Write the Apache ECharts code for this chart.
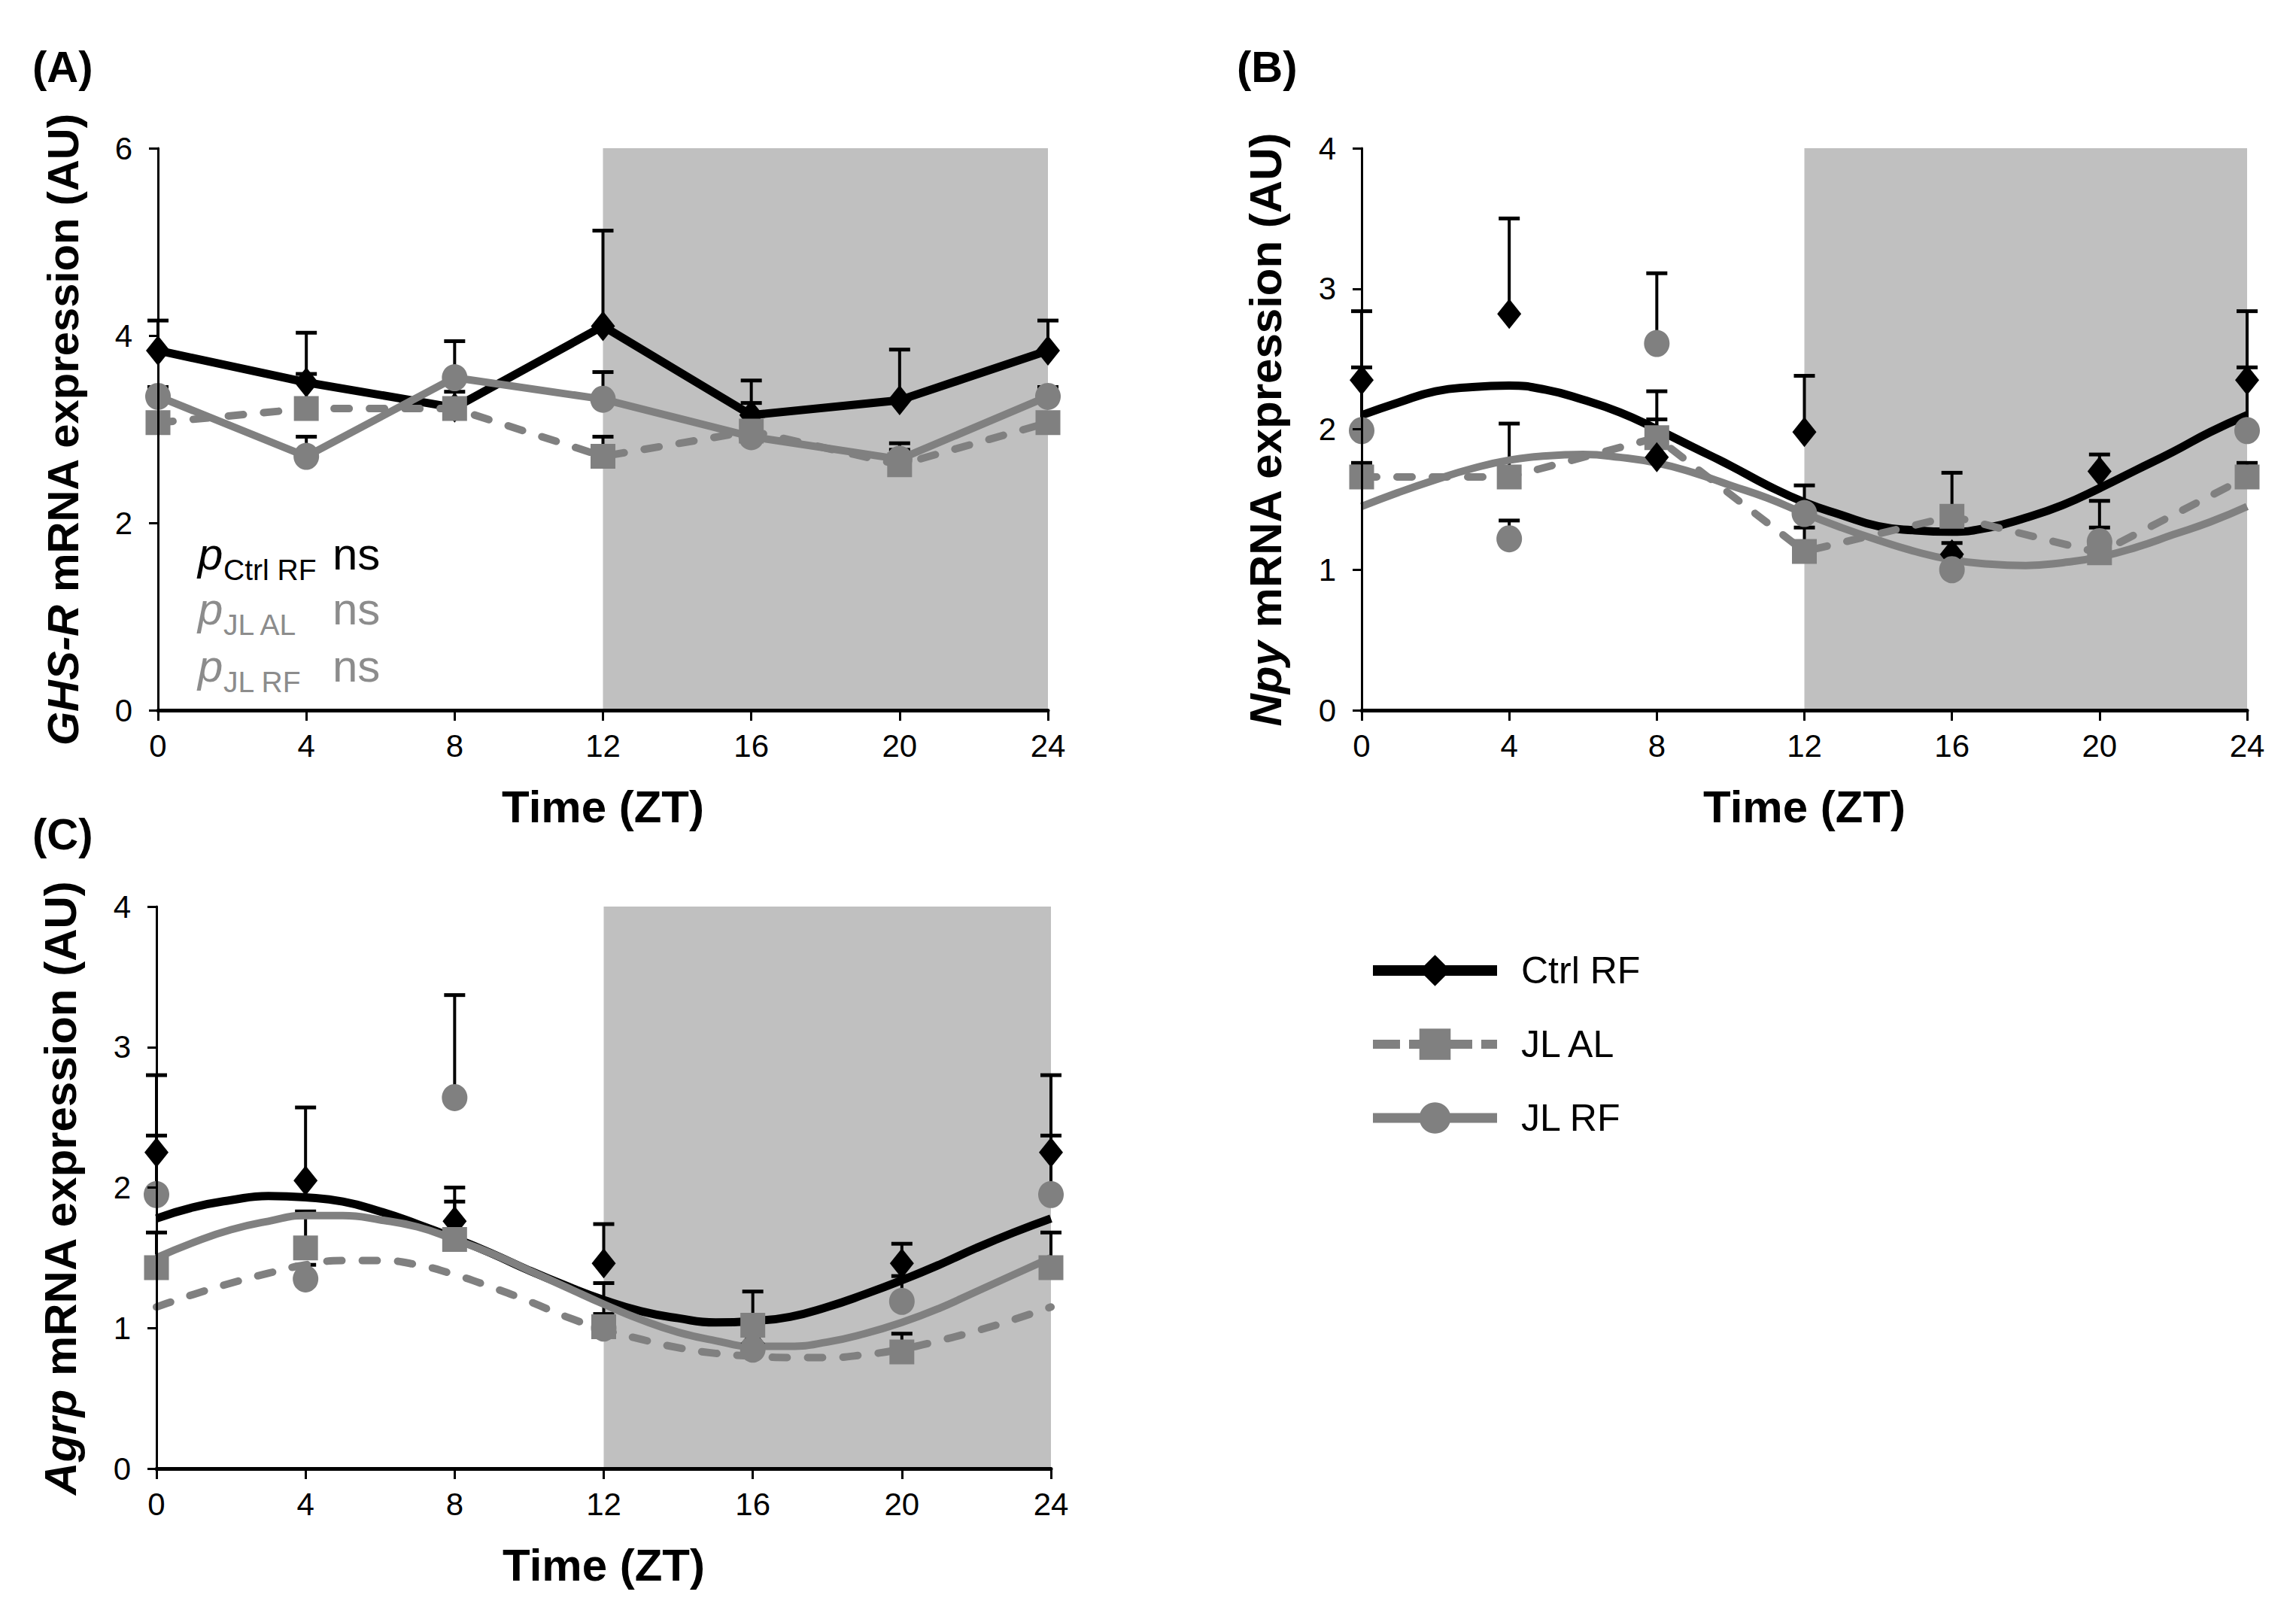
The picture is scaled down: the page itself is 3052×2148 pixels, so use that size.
<!DOCTYPE html>
<html>
<head>
<meta charset="utf-8">
<script src="https://cdn.jsdelivr.net/npm/echarts@6.0.0/dist/echarts.min.js"></script>
<style>
html,body{margin:0;padding:0;background:#ffffff;}
#chart{width:3052px;height:2148px;}
</style>
</head>
<body>
<div id="chart"></div>
<script>
// ---------------- data ----------------
const zt = [0, 4, 8, 12, 16, 20, 24];
const ztFit = [0, 1, 2, 3, 4, 5, 6, 7, 8, 9, 10, 11, 12, 13, 14, 15, 16, 17, 18, 19, 20, 21, 22, 23, 24];
const xTickLabels = ['0', '4', '8', '12', '16', '20', '24'];
const yTicksA = [0, 2, 4, 6];
const yTicksBC = [0, 1, 2, 3, 4];
const darkPhase = [12, 24];
const groupNames = ['Ctrl RF', 'JL AL', 'JL RF'];

// (A) GHS-R
const ghsrCtrlRF = [3.84, 3.50, 3.23, 4.10, 3.15, 3.31, 3.84];
const ghsrCtrlRFSem = [0.32, 0.53, 0.17, 1.02, 0.37, 0.54, 0.32];
const ghsrJLAL = [3.07, 3.22, 3.22, 2.71, 2.98, 2.62, 3.07];
const ghsrJLALSem = [0.10, 0.37, 0.10, 0.21, 0.30, 0.23, 0.10];
const ghsrJLRF = [3.35, 2.71, 3.55, 3.32, 2.92, 2.68, 3.35];
const ghsrJLRFSem = [0.10, 0.21, 0.39, 0.29, 0.10, 0.10, 0.10];

// (B) Npy
const npyCtrlRF = [2.35, 2.82, 1.80, 1.98, 1.11, 1.70, 2.35];
const npyCtrlRFSem = [0.49, 0.68, 0.27, 0.40, 0.08, 0.12, 0.49];
const npyJLAL = [1.66, 1.66, 1.94, 1.13, 1.38, 1.12, 1.66];
const npyJLALSem = [0.10, 0.38, 0.33, 0.17, 0.31, 0.37, 0.10];
const npyJLRF = [1.99, 1.22, 2.61, 1.40, 1.00, 1.20, 1.99];
const npyJLRFSem = [0.45, 0.13, 0.50, 0.20, 0.10, 0.10, 0.45];
const npyCtrlRFFit = [2.10, 2.19, 2.27, 2.30, 2.31, 2.28, 2.21, 2.12, 2.00, 1.87, 1.74, 1.60, 1.48, 1.39, 1.31, 1.28, 1.27, 1.30, 1.37, 1.46, 1.58, 1.71, 1.84, 1.98, 2.10];
const npyJLRFFit = [1.45, 1.55, 1.64, 1.72, 1.78, 1.81, 1.82, 1.80, 1.76, 1.69, 1.60, 1.51, 1.40, 1.30, 1.21, 1.13, 1.07, 1.04, 1.03, 1.05, 1.09, 1.16, 1.25, 1.34, 1.45];

// (C) Agrp
const agrpCtrlRF = [2.25, 2.05, 1.76, 1.46, 0.89, 1.46, 2.25];
const agrpCtrlRFSem = [0.55, 0.52, 0.24, 0.28, 0.08, 0.14, 0.55];
const agrpJLAL = [1.43, 1.57, 1.63, 1.01, 1.02, 0.83, 1.43];
const agrpJLALSem = [0.25, 0.26, 0.27, 0.31, 0.24, 0.13, 0.25];
const agrpJLRF = [1.95, 1.35, 2.64, 1.00, 0.85, 1.19, 1.95];
const agrpJLRFSem = [0.42, 0.10, 0.73, 0.10, 0.10, 0.18, 0.42];
const agrpCtrlRFFit = [1.78, 1.86, 1.91, 1.94, 1.93, 1.90, 1.83, 1.74, 1.64, 1.53, 1.41, 1.30, 1.20, 1.12, 1.07, 1.04, 1.05, 1.08, 1.15, 1.24, 1.34, 1.45, 1.57, 1.68, 1.78];
const agrpJLALFit = [1.15, 1.24, 1.32, 1.39, 1.45, 1.48, 1.48, 1.45, 1.38, 1.29, 1.19, 1.08, 0.99, 0.92, 0.86, 0.82, 0.80, 0.79, 0.79, 0.81, 0.85, 0.91, 0.98, 1.06, 1.15];
const agrpJLRFFit = [1.50, 1.61, 1.70, 1.76, 1.80, 1.80, 1.77, 1.72, 1.63, 1.53, 1.41, 1.29, 1.17, 1.06, 0.97, 0.91, 0.87, 0.87, 0.90, 0.96, 1.04, 1.14, 1.26, 1.38, 1.50];

// ---------------- styling ----------------
const FONT = '"Liberation Sans", Arial, sans-serif';
const BLACK = '#000000';
const GREY = '#808080';
const TEXT_GREY = '#8c8c8c';
const SHADE = '#c0c0c0';
const DASH = [20, 27];
const SYM = {
  'Ctrl RF': { symbol: 'diamond', size: [32, 40], color: BLACK, width: 11 },
  'JL AL': { symbol: 'rect', size: [33, 33], color: GREY, width: 10 },
  'JL RF': { symbol: 'circle', size: [34, 36], color: GREY, width: 10 }
};

function pairs(xs, ys) { return xs.map((x, i) => [x, ys[i]]); }

function lineStyleFor(name, dashed) {
  const s = SYM[name];
  return dashed
    ? { color: s.color, width: s.width, type: DASH, cap: 'round', join: 'round' }
    : { color: s.color, width: s.width, type: 'solid', cap: 'butt', join: 'round' };
}

function errSeries(gi, ys, sems) {
  return {
    type: 'custom', xAxisIndex: gi, yAxisIndex: gi, z: 3, silent: true, clip: false,
    encode: { x: 0, y: 1 },
    data: zt.map((x, i) => [x, ys[i], sems[i]]),
    renderItem: function (params, api) {
      const x = api.value(0), y = api.value(1), e = api.value(2);
      const p0 = api.coord([x, y]);
      const p1 = api.coord([x, y + e]);
      const hw = 14;
      return {
        type: 'group',
        children: [
          { type: 'line', shape: { x1: p0[0], y1: p0[1], x2: p1[0], y2: p1[1] }, style: { stroke: BLACK, lineWidth: 4 } },
          { type: 'line', shape: { x1: p1[0] - hw, y1: p1[1], x2: p1[0] + hw, y2: p1[1] }, style: { stroke: BLACK, lineWidth: 5 } }
        ]
      };
    }
  };
}

function connected(gi, name, ys, dashed) {
  const s = SYM[name];
  return {
    type: 'line', name: name, xAxisIndex: gi, yAxisIndex: gi, z: 5,
    data: pairs(zt, ys), symbol: s.symbol, symbolSize: s.size, showSymbol: true,
    itemStyle: { color: s.color, borderWidth: 0 },
    lineStyle: lineStyleFor(name, dashed),
    emphasis: { disabled: true }, silent: true
  };
}

function points(gi, name, ys) {
  const s = SYM[name];
  return {
    type: 'scatter', name: name, xAxisIndex: gi, yAxisIndex: gi, z: 6,
    data: pairs(zt, ys), symbol: s.symbol, symbolSize: s.size,
    itemStyle: { color: s.color, opacity: 1 }, emphasis: { disabled: true }, silent: true
  };
}

function fitCurve(gi, name, ys, dashed) {
  const s = SYM[name];
  return {
    type: 'line', name: name, xAxisIndex: gi, yAxisIndex: gi, z: 4,
    data: pairs(ztFit, ys), smooth: true, showSymbol: false, symbol: 'none',
    lineStyle: lineStyleFor(name, dashed),
    itemStyle: { color: s.color },
    emphasis: { disabled: true }, silent: true
  };
}

function shadeSeries(gi, ymax) {
  return {
    type: 'scatter', xAxisIndex: gi, yAxisIndex: gi, z: 1, data: [], silent: true,
    markArea: {
      silent: true,
      itemStyle: { color: SHADE, opacity: 1 },
      data: [[{ coord: [darkPhase[0], 0] }, { coord: [darkPhase[1], ymax] }]]
    }
  };
}

const grids = [
  { left: 210, top: 197, width: 1183, height: 747, outerBoundsMode: 'none' },
  { left: 1810, top: 197, width: 1177, height: 747, outerBoundsMode: 'none' },
  { left: 208, top: 1205, width: 1189, height: 747, outerBoundsMode: 'none' }
];

function xAx(gi) {
  return {
    type: 'value', gridIndex: gi, min: 0, max: 24, interval: 4, z: 10,
    axisLine: { show: true, onZero: false, lineStyle: { color: BLACK, width: 5 } },
    axisTick: { show: true, inside: false, length: 14, lineStyle: { color: BLACK, width: 3 } },
    axisLabel: { show: true, fontSize: 42, fontFamily: FONT, color: BLACK, margin: 26,
      showMinLabel: true, showMaxLabel: true,
      formatter: (v) => xTickLabels[zt.indexOf(v)] },
    splitLine: { show: false },
    name: 'Time (ZT)', nameLocation: 'middle', nameGap: 98,
    nameTextStyle: { fontSize: 60, fontWeight: 'bold', fontFamily: FONT, color: BLACK }
  };
}

function yAx(gi, ticks, gene, size) {
  return {
    type: 'value', gridIndex: gi, min: ticks[0], max: ticks[ticks.length - 1],
    interval: ticks[1] - ticks[0], z: 10,
    axisLine: { show: true, onZero: false, lineStyle: { color: BLACK, width: 3 } },
    axisTick: { show: true, inside: false, length: 12, lineStyle: { color: BLACK, width: 3 } },
    axisLabel: { show: true, fontSize: 42, fontFamily: FONT, color: BLACK, margin: 34,
      showMinLabel: true, showMaxLabel: true },
    splitLine: { show: false },
    name: '{g|' + gene + '} mRNA expression (AU)', nameLocation: 'middle', nameGap: 98, nameRotate: 90,
    nameTextStyle: { fontSize: size, fontWeight: 'bold', fontFamily: FONT, color: BLACK,
      rich: { g: { fontSize: size, fontWeight: 'bold', fontStyle: 'italic', fontFamily: FONT, color: BLACK } } }
  };
}

const series = [
  // panel A (first so the legend takes its icons from here)
  connected(0, 'Ctrl RF', ghsrCtrlRF, false),
  connected(0, 'JL AL', ghsrJLAL, true),
  connected(0, 'JL RF', ghsrJLRF, false),
  shadeSeries(0, yTicksA[yTicksA.length - 1]),
  errSeries(0, ghsrCtrlRF, ghsrCtrlRFSem),
  errSeries(0, ghsrJLAL, ghsrJLALSem),
  errSeries(0, ghsrJLRF, ghsrJLRFSem),
  // panel B
  shadeSeries(1, yTicksBC[yTicksBC.length - 1]),
  errSeries(1, npyCtrlRF, npyCtrlRFSem),
  errSeries(1, npyJLAL, npyJLALSem),
  errSeries(1, npyJLRF, npyJLRFSem),
  fitCurve(1, 'Ctrl RF', npyCtrlRFFit, false),
  fitCurve(1, 'JL RF', npyJLRFFit, false),
  connected(1, 'JL AL', npyJLAL, true),
  points(1, 'Ctrl RF', npyCtrlRF),
  points(1, 'JL RF', npyJLRF),
  // panel C
  shadeSeries(2, yTicksBC[yTicksBC.length - 1]),
  errSeries(2, agrpCtrlRF, agrpCtrlRFSem),
  errSeries(2, agrpJLAL, agrpJLALSem),
  errSeries(2, agrpJLRF, agrpJLRFSem),
  fitCurve(2, 'Ctrl RF', agrpCtrlRFFit, false),
  fitCurve(2, 'JL AL', agrpJLALFit, true),
  fitCurve(2, 'JL RF', agrpJLRFFit, false),
  points(2, 'Ctrl RF', agrpCtrlRF),
  points(2, 'JL AL', agrpJLAL),
  points(2, 'JL RF', agrpJLRF)
];

// p-value annotation text
function pLine(x, baseline, sub, val, color, valX) {
  const big = 60, small = 39;
  return [
    { type: 'text', x: x, y: baseline - 0.35 * big, silent: true,
      style: { text: 'p', fontSize: big, fontStyle: 'italic', fontFamily: FONT, fill: color, align: 'left', verticalAlign: 'middle' } },
    { type: 'text', x: x + 34, y: baseline + 14 - 0.35 * small, silent: true,
      style: { text: sub, fontSize: small, fontFamily: FONT, fill: color, align: 'left', verticalAlign: 'middle' } },
    { type: 'text', x: valX, y: baseline - 0.35 * big, silent: true,
      style: { text: val, fontSize: big, fontFamily: FONT, fill: color, align: 'left', verticalAlign: 'middle' } }
  ];
}
function panelLabel(t, x, yc) {
  return { type: 'text', x: x, y: yc, silent: true,
    style: { text: t, fontSize: 58, fontWeight: 'bold', fontFamily: FONT, fill: BLACK, align: 'left', verticalAlign: 'middle' } };
}

const graphics = [].concat(
  [panelLabel('(A)', 43, 88), panelLabel('(B)', 1644, 88), panelLabel('(C)', 43, 1108)],
  pLine(263, 757, 'Ctrl RF', 'ns', BLACK, 442),
  pLine(263, 830, 'JL AL', 'ns', TEXT_GREY, 442),
  pLine(263, 906, 'JL RF', 'ns', TEXT_GREY, 442),
  pLine(2564, 275, 'Ctrl RF', '< 0.05', BLACK, 2736),
  pLine(2564, 350, 'JL AL', 'ns', TEXT_GREY, 2744),
  pLine(2564, 424, 'JL RF', '= 0.05', TEXT_GREY, 2744),
  pLine(938, 1288, 'Ctrl RF', '< 0.05', BLACK, 1120),
  pLine(938, 1363, 'JL AL', '< 0.05', TEXT_GREY, 1118),
  pLine(938, 1438, 'JL RF', '< 0.05', TEXT_GREY, 1122)
);

const option = {
  backgroundColor: '#ffffff',
  animation: false,
  textStyle: { fontFamily: FONT },
  grid: grids,
  xAxis: [xAx(0), xAx(1), xAx(2)],
  yAxis: [yAx(0, yTicksA, 'GHS-R', 58), yAx(1, yTicksBC, 'Npy', 60), yAx(2, yTicksBC, 'Agrp', 60)],
  legend: {
    data: [
      { name: groupNames[0], lineStyle: { width: 14, type: 'solid', cap: 'butt' } },
      { name: groupNames[1], lineStyle: { width: 12, type: [36, 12], cap: 'butt' } },
      { name: groupNames[2], lineStyle: { width: 13, type: 'solid', cap: 'butt' } }
    ],
    orient: 'vertical', left: 1813, top: 1260,
    itemWidth: 165, itemHeight: 52, itemGap: 48, selectedMode: false,
    lineStyle: { width: 13, cap: 'butt' },
    textStyle: { fontSize: 50, fontFamily: FONT, color: BLACK, padding: [0, 0, 0, 27] }
  },
  tooltip: { show: false },
  graphic: graphics,
  series: series
};

const chart = echarts.init(document.getElementById('chart'), null, { renderer: 'svg', width: 3052, height: 2148 });
chart.setOption(option);
</script>
</body>
</html>
